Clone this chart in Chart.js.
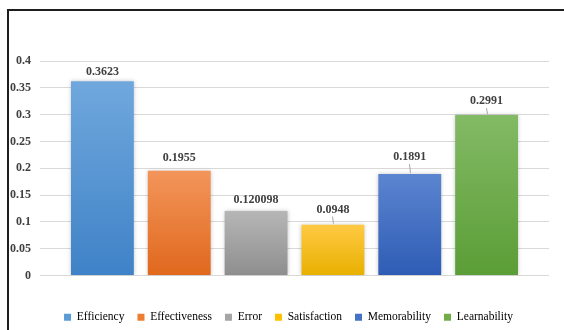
<!DOCTYPE html>
<html>
<head>
<meta charset="utf-8">
<script src="https://cdn.jsdelivr.net/npm/chart.js@4"></script>
<style>
  html, body { margin: 0; padding: 0; background: #fff; overflow: hidden; }
  #wrap { position: relative; width: 564px; height: 330px; }
  #frame {
    position: absolute; left: 7px; top: 9px; width: 600px; height: 400px;
    border-left: 2px solid #1e1e1e; border-top: 2px solid #1e1e1e;
  }
  canvas { position: absolute; left: 0; top: 0; }
</style>
</head>
<body>
<div id="wrap">
  <div id="frame"></div>
  <canvas id="usabilityChart" width="564" height="330"></canvas>
</div>
<script>
// values
const categories = ['Efficiency', 'Effectiveness', 'Error', 'Satisfaction', 'Memorability', 'Learnability'];
const scores = [0.3623, 0.1955, 0.120098, 0.0948, 0.1891, 0.2991];
const yTicks = [0, 0.05, 0.1, 0.15, 0.2, 0.25, 0.3, 0.35, 0.4];

// office-like colours, light at the top, darker at the bottom
const baseColors = ['#5B9BD5', '#ED7D31', '#A5A5A5', '#FFC000', '#4472C4', '#70AD47'];
const topColors = ['#70A8DD', '#F3955B', '#B6B6B6', '#FFC944', '#5C85D0', '#83BA65'];
const bottomColors = ['#3F82C7', '#E0681D', '#8E8E8E', '#E8B000', '#2E5CB5', '#5B9D36'];

const serif = '"Liberation Serif", "Times New Roman", serif';

// label placement above each bar, a few have a leader line
const labelLift = [9.5, 13, 11, 15, 17, 14];
const hasLeader = [false, false, false, true, true, true];

const barGradient = (context) => {
    const chart = context.chart;
    const i = context.dataIndex;
    if (!chart.chartArea || context.type !== 'data') return baseColors[i];
    const y = chart.scales.y;
    const top = y.getPixelForValue(scores[i]);
    const base = y.getPixelForValue(0);
    const g = chart.ctx.createLinearGradient(0, top, 0, base);
    g.addColorStop(0, topColors[i]);
    g.addColorStop(1, bottomColors[i]);
    return g;
};

const barShadow = {
    id: 'barShadow',
    beforeDatasetsDraw(chart) {
        const ctx = chart.ctx;
        ctx.save();
        ctx.shadowColor = 'rgba(0,0,0,0.22)';
        ctx.shadowBlur = 4;
    },
    afterDatasetsDraw(chart) {
        chart.ctx.restore();
    }
};

// the legend sits a little right of the canvas centre
const legendShift = {
    id: 'legendShift',
    afterLayout(chart) {
        if (chart.legend) {
            chart.legend.left += 14;
            chart.legend.right += 14;
        }
    }
};

const valueLabels = {
    id: 'valueLabels',
    afterDatasetsDraw(chart) {
        const ctx = chart.ctx;
        const meta = chart.getDatasetMeta(0);
        ctx.save();
        ctx.font = 'bold 12px ' + serif;
        ctx.fillStyle = '#404040';
        ctx.textAlign = 'center';
        ctx.textBaseline = 'middle';
        meta.data.forEach((bar, i) => {
            const cy = bar.y - labelLift[i];
            ctx.fillText(String(scores[i]), bar.x, cy);
            if (hasLeader[i]) {
                ctx.strokeStyle = '#A6A6A6';
                ctx.lineWidth = 1;
                ctx.beginPath();
                ctx.moveTo(Math.round(bar.x) - 0.5, cy + 7);
                ctx.lineTo(Math.round(bar.x) + 0.5, bar.y - 1);
                ctx.stroke();
            }
        });
        ctx.restore();
    }
};

const ctx = document.getElementById('usabilityChart').getContext('2d');
new Chart(ctx, {
    type: 'bar',
    data: {
        datasets: [{
            label: 'Score',
            data: scores.map((v, i) => ({ x: i, y: v })),
            backgroundColor: barGradient,
            borderWidth: 0,
            categoryPercentage: 1,
            barPercentage: 0.818
        }]
    },
    options: {
        responsive: false,
        animation: false,
        devicePixelRatio: 1,
        layout: { padding: { left: 0, right: 15, top: 61, bottom: -3 } },
        plugins: {
            tooltip: { enabled: false },
            legend: {
                position: 'bottom',
                labels: {
                    boxWidth: 7,
                    boxHeight: 7,
                    padding: 13,
                    color: '#595959',
                    font: { family: serif, size: 11.5 },
                    generateLabels: () => categories.map((name, i) => ({
                        text: name,
                        fillStyle: baseColors[i],
                        strokeStyle: baseColors[i],
                        lineWidth: 0,
                        hidden: false,
                        index: i,
                        datasetIndex: 0
                    }))
                }
            }
        },
        scales: {
            x: {
                type: 'linear',
                offset: false,
                min: -0.812,
                max: 5.812,
                afterBuildTicks: (scale) => { scale.ticks = categories.map((c, i) => ({ value: i })); },
                ticks: { display: false },
                grid: { display: false },
                border: { display: false },
                afterFit: (scale) => { scale.height = 23; }
            },
            y: {
                min: 0,
                max: 0.4,
                afterBuildTicks: (scale) => { scale.ticks = yTicks.map(v => ({ value: v })); },
                ticks: {
                    color: '#404040',
                    padding: 9,
                    font: { family: serif, size: 12, weight: 'bold' },
                    callback: (v) => String(v)
                },
                grid: { color: '#D9D9D9', lineWidth: 1, drawTicks: false },
                border: { display: false },
                afterFit: (scale) => { scale.width = 40; }
            }
        }
    },
    plugins: [barShadow, legendShift, valueLabels]
});
</script>
</body>
</html>
